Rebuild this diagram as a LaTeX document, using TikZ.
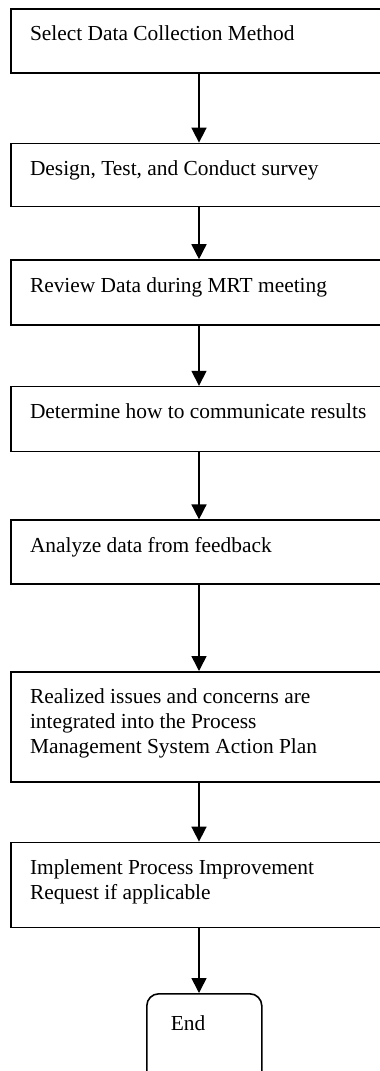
\documentclass[tikz,border=0pt]{standalone}
\usepackage{fontspec}
\setmainfont{Liberation Serif}
\usetikzlibrary{arrows.meta,positioning}

\begin{document}
\begin{tikzpicture}
        [ x=1pt, y=1pt,
          every node/.style = {draw=black,line width=1.6pt,inner xsep=19pt,inner ysep=0pt,
                               font=\fontsize{21.4}{25}\selectfont,text height=32pt},
          stepbox/.style = {minimum width=376pt,text width=338pt,align=flush left,text depth=#1},
          end node/.style = {rounded corners=12pt,anchor=north west,minimum width=115pt,
                             inner xsep=24pt,text width=67pt,align=flush left,
                             text height=37pt,text depth=60pt},
          flow/.style = {draw=black,line width=1.6pt,-{Triangle[width=15pt,length=15pt]}}]
        \useasboundingbox (0,0) rectangle (380,-1071);
        \node[stepbox=32pt] (select) at (199,-8) [anchor=north] {Select Data Collection Method};
        \node[stepbox=31pt,below=69pt of select] (design) {Design, Test, and Conduct survey};
        \node[stepbox=33pt,below=52pt of design] (review) {Review Data during MRT meeting};
        \node[stepbox=33pt,below=60pt of review] (determine) {Determine how to communicate results};
        \node[stepbox=32pt,below=67pt of determine] (analyze) {Analyze data from feedback};
        \node[stepbox=78pt,below=86pt of analyze] (realized)
            {Realized issues and concerns are\\integrated into the Process\\Management System Action Plan};
        \node[stepbox=53pt,below=59pt of realized] (implement)
            {Implement Process Improvement\\Request if applicable};
        \node[end node] (end) at (146,-993) {End};
        \draw[flow] (select) -- (design);
        \draw[flow] (design) -- (review);
        \draw[flow] (review) -- (determine);
        \draw[flow] (determine) -- (analyze);
        \draw[flow] (analyze) -- (realized);
        \draw[flow] (realized) -- (implement);
        \draw[flow] (implement.south) -- (implement.south |- end.north);
    \end{tikzpicture}
\end{document}
